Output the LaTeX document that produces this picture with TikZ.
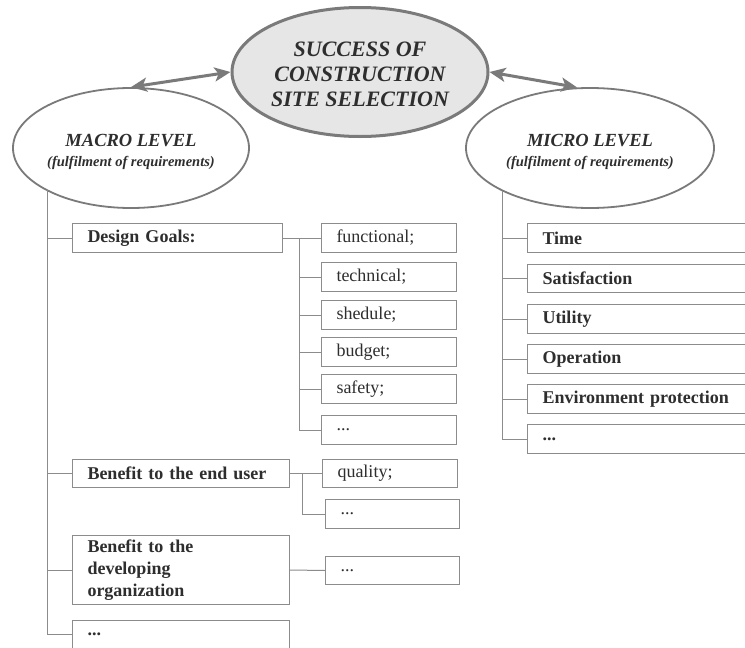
\documentclass[tikz,border=0pt]{standalone}
\usepackage{fontspec}
\setmainfont{Liberation Serif}
\usetikzlibrary{shapes.geometric,arrows.meta}
\definecolor{lngray}{HTML}{8C8C8C}
\definecolor{elgray}{HTML}{7A7A7A}
\definecolor{fillgray}{HTML}{E6E6E6}
\definecolor{txt}{HTML}{2E2E2E}
\begin{document}
\begin{tikzpicture}[x=1pt,y=-1pt,
  ln/.style={draw=lngray, line width=1pt},
  bx/.style={draw=lngray, line width=1pt, anchor=north west, inner xsep=15pt, inner ysep=0pt,
    align=left, text=txt, font=\fontsize{18}{22}\selectfont, minimum height=29pt},
  bbx/.style={bx, font=\fontsize{18}{22}\selectfont\bfseries},
  ell/.style={ellipse, draw=elgray, line width=1.8pt, fill=white, inner sep=0pt},
  lvltxt/.style={text=txt, align=center, yshift=-4pt, font=\fontsize{18.5}{20}\selectfont\bfseries\itshape},
  arr/.style={draw=elgray, line width=3pt, {Stealth[length=16pt,width=14pt,inset=4pt]}-{Stealth[length=16pt,width=14pt,inset=4pt]}}
]
\clip (0,0) rectangle (745,648);
\fill[white] (0,0) rectangle (745,648);

% ellipses
\node[ell, line width=3pt, fill=fillgray, minimum width=256pt, minimum height=129pt,
  label={[text=txt, align=center, yshift=-2pt, font=\fontsize{22}{25}\selectfont\bfseries\itshape]center:SUCCESS OF\\CONSTRUCTION\\SITE SELECTION}]
  (succ) at (360,72) {};
\node[ell, minimum width=236pt, minimum height=120pt,
  label={[lvltxt]center:MACRO LEVEL\\{\fontsize{14.5}{17}\selectfont (fulfilment of requirements)}}]
  (macro) at (131,148) {};
\node[ell, minimum width=248pt, minimum height=120pt,
  label={[lvltxt]center:MICRO LEVEL\\{\fontsize{14.5}{17}\selectfont (fulfilment of requirements)}}]
  (micro) at (590,148) {};

\draw[arr] (macro.north) -- (succ.west);
\draw[arr] (succ.east) -- (micro.102);

% macro level boxes
\node[bbx, minimum width=210pt, text width=180pt] (dg) at (72,223) {Design Goals:};
\node[bx, minimum width=135pt, text width=105pt] (fun) at (321,223) {functional;};
\node[bx, minimum width=135pt, text width=105pt] (tec) at (321,262) {technical;};
\node[bx, minimum width=135pt, text width=105pt] (she) at (321,300) {shedule;};
\node[bx, minimum width=135pt, text width=105pt] (bud) at (321,337) {budget;};
\node[bx, minimum width=135pt, text width=105pt] (saf) at (321,374) {safety;};
\node[bx, minimum width=135pt, text width=105pt] (dda) at (321,415) {...};

\node[bbx, minimum width=217pt, text width=187pt, minimum height=28pt] (beu) at (72,459) {Benefit to the end user};
\node[bx, minimum width=135pt, text width=105pt, minimum height=28pt] (qua) at (322,459) {quality;};
\node[bx, minimum width=134pt, text width=104pt] (ddb) at (325,499) {...};

\node[bbx, minimum width=217pt, text width=187pt, minimum height=69pt] (bdo) at (72,535) {Benefit to the\\developing\\organization};
\node[bx, minimum width=134pt, text width=104pt, minimum height=28pt] (ddc) at (325,556) {...};

\node[bbx, minimum width=217pt, text width=187pt, minimum height=28pt] (mmore) at (72,620) {...};

% micro level boxes
\node[bbx, minimum width=240pt, text width=210pt] (tim) at (527,223) {Time};
\node[bbx, minimum width=240pt, text width=210pt, minimum height=28pt] (sat) at (527,264) {Satisfaction};
\node[bbx, minimum width=240pt, text width=210pt] (uti) at (527,304) {Utility};
\node[bbx, minimum width=240pt, text width=210pt] (ope) at (527,344) {Operation};
\node[bbx, minimum width=240pt, text width=210pt] (env) at (527,384) {Environment protection};
\node[bbx, minimum width=240pt, text width=210pt] (mdd) at (527,424) {...};

% macro trunk
\coordinate (mtr) at (47,190);
\draw[ln] (mtr) |- (mmore.west);
\foreach \b in {dg,beu,bdo} \draw[ln] (mtr |- \b.west) -- (\b.west);

% design goals sub-trunk
\coordinate (st1) at (299,0);
\draw[ln] (dg.east) -- (fun.west);
\draw[ln] (st1 |- dg.east) |- (dda.west);
\foreach \b in {tec,she,bud,saf} \draw[ln] (st1 |- \b.west) -- (\b.west);

% end user sub-trunk
\coordinate (st2) at (302,0);
\draw[ln] (beu.east) -- (qua.west);
\draw[ln] (st2 |- beu.east) |- (ddb.west);

% developing organization
\draw[ln] (bdo.east) -- (ddc.west);

% micro trunk
\coordinate (ctr) at (502,191);
\draw[ln] (ctr) |- (mdd.west);
\foreach \b in {tim,sat,uti,ope,env} \draw[ln] (ctr |- \b.west) -- (\b.west);
\end{tikzpicture}
\end{document}
